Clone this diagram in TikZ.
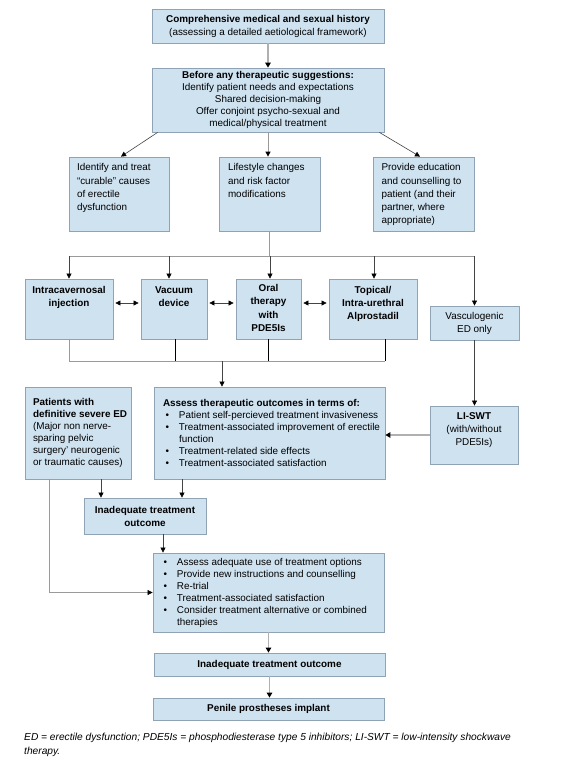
\documentclass[tikz,border=0pt]{standalone}
\usepackage{fontspec}
\setmainfont{Liberation Sans}
\usetikzlibrary{arrows.meta}
\definecolor{boxfill}{HTML}{CFE2F0}
\definecolor{boxline}{HTML}{8FA3B4}
\definecolor{lgray}{HTML}{B0B0B0}
\definecolor{mgray}{HTML}{9A9A9A}
\definecolor{dgray}{HTML}{444444}
\newcommand\pbx[3]{\parbox[c][#1][t]{#2}{#3}}
\newcommand\bt[1]{\mbox{\makebox[16pt][l]{\hspace{2.5pt}\textbullet}#1}}
\newcommand\bu[1]{\mbox{\makebox[14pt][l]{\hspace{0.5pt}\textbullet}#1}}
\hfuzz=50pt
\begin{document}
\begin{tikzpicture}[x=1pt,y=-1pt,
  box/.style={draw=boxline, line width=0.8pt, fill=boxfill, font=\fontsize{9.9}{12}\selectfont},
  cbox/.style={box, align=center, inner sep=0pt},
  pbox/.style={box, inner sep=0pt},
  tarrow/.style={draw=dgray, line width=0.6pt, -{Triangle[length=5pt,width=5pt,color=black]}},
  darrow/.style={draw=dgray, line width=0.6pt, shorten <=2pt, shorten >=2pt,
    {Triangle[length=5pt,width=5pt,color=black]}-{Triangle[length=5pt,width=5pt,color=black]}},
  barrow/.style={draw=lgray, line width=1.8pt, -{Triangle[length=5pt,width=5.5pt,color=black]}},
  marrow/.style={draw=mgray, line width=1pt, -{Triangle[length=5pt,width=5pt,color=black]}},
  gline/.style={draw=mgray, line width=0.6pt},
  kline/.style={draw=black, line width=0.7pt}]
\fill[white] (0,0) rectangle (575,772);
\useasboundingbox (0,0) rectangle (575,772);

% top boxes
\node[cbox, minimum width=232pt, minimum height=34pt, font=\fontsize{9.9}{13}\selectfont] (hist) at (268,26)
  {\textbf{Comprehensive medical and sexual history}\\(assessing a detailed aetiological framework)};
\node[cbox, minimum width=232pt, minimum height=64pt] (before) at (268,100)
  {\textbf{Before any therapeutic suggestions:}\\Identify patient needs and expectations\\Shared decision-making\\Offer conjoint psycho-sexual and\\medical/physical treatment};

% three boxes
\node[pbox, font=\fontsize{9.9}{13.25}\selectfont] (cur) at (119,194)
  {\pbx{74pt}{100pt}{\vspace*{4.5pt}\raggedright\leftskip=8pt\strut Identify and treat\\“curable” causes\\of erectile\\dysfunction}};
\node[pbox, font=\fontsize{9.9}{13.25}\selectfont] (life) at (269.5,194)
  {\pbx{74pt}{101pt}{\vspace*{4.5pt}\raggedright\leftskip=9pt\strut Lifestyle changes\\and risk factor\\modifications}};
\node[pbox, font=\fontsize{9.9}{13.25}\selectfont] (edu) at (423.5,194)
  {\pbx{74pt}{101pt}{\vspace*{4.5pt}\raggedright\leftskip=8.5pt\strut Provide education\\and counselling to\\patient (and their\\partner, where\\appropriate)}};

% treatment boxes
\node[pbox, font=\fontsize{9.9}{13}\selectfont\bfseries] (ici) at (69,309)
  {\pbx{60pt}{88pt}{\vspace*{5.3pt}\centering\strut Intracavernosal\\injection}};
\node[pbox, font=\fontsize{9.9}{13}\selectfont\bfseries] (vac) at (174,309)
  {\pbx{60pt}{66pt}{\vspace*{5.3pt}\centering\strut Vacuum\\device}};
\node[pbox, font=\fontsize{9.9}{13.3}\selectfont\bfseries] (oral) at (268.5,309)
  {\pbx{60pt}{65pt}{\vspace*{3.3pt}\centering\strut Oral\\therapy\\with\\PDE5Is}};
\node[pbox, font=\fontsize{9.9}{13}\selectfont\bfseries] (top) at (373,309)
  {\pbx{60pt}{88pt}{\vspace*{5.3pt}\centering\strut Topical/\\Intra-urethral\\Alprostadil}};
\node[cbox, minimum width=89pt, minimum height=34pt, font=\fontsize{9.9}{13}\selectfont] (vasc) at (474.5,323)
  {Vasculogenic\\ED only};

% middle row
\node[pbox] (pat) at (78,433)
  {\parbox[c][92pt][c]{106pt}{\raggedright\leftskip=8pt {\bfseries Patients with\\definitive severe ED}\\(Major non nerve-\\sparing pelvic\\surgery’ neurogenic\\or traumatic causes)}};
\node[pbox] (assess) at (269.5,433)
  {\parbox[c][92pt][c]{231pt}{\raggedright\leftskip=9pt \textbf{Assess therapeutic outcomes in terms of:}\\\bt{Patient self-percieved treatment invasiveness}\\\bt{Treatment-associated improvement of erectile}\\\hspace*{16pt}function\\\bt{Treatment-related side effects}\\\bt{Treatment-associated satisfaction}}};
\node[pbox, font=\fontsize{9.9}{13}\selectfont] (li) at (474,435)
  {\pbx{58pt}{88pt}{\vspace*{4.3pt}\centering\strut\textbf{LI-SWT}\\(with/without\\PDE5Is)}};

\node[cbox, minimum width=122pt, minimum height=36pt, font=\fontsize{9.9}{13}\selectfont\bfseries] (inad1) at (145,516)
  {Inadequate treatment\\outcome};

\node[pbox] (bul) at (268.5,592.5)
  {\parbox[c][79pt][c]{231pt}{\raggedright\leftskip=10pt \bu{Assess adequate use of treatment options}\\\bu{Provide new instructions and counselling}\\\bu{Re-trial}\\\bu{Treatment-associated satisfaction}\\\bu{Consider treatment alternative or combined}\\\hspace*{14pt}therapies}};

\node[cbox, minimum width=231pt, minimum height=23pt, font=\fontsize{9.9}{12}\selectfont\bfseries] (inad2) at (269.5,664.5)
  {Inadequate treatment outcome};
\node[cbox, minimum width=231pt, minimum height=22pt, font=\fontsize{9.9}{12}\selectfont\bfseries] (pen) at (268.5,709)
  {Penile prostheses implant};

\node[anchor=north west, inner sep=0pt, align=left, font=\fontsize{10.2}{14}\selectfont\itshape] (foot) at (24,732.5)
  {ED = erectile dysfunction; PDE5Is = phosphodiesterase type 5 inhibitors; LI-SWT = low-intensity shockwave\\therapy.};

% connectors top
\draw[barrow] (hist.south) -- (before.north);
\draw[tarrow] ([xshift=6pt]before.south west) -- ([xshift=2pt]cur.north);
\draw[marrow] (before.south) -- (before.south |- life.north);
\draw[tarrow] ([xshift=-5pt]before.south east) -- ([xshift=-3.5pt]edu.north);

% distribution
\coordinate (dist) at (270,256);
\draw[gline] (life.south) -- (life.south |- dist);
\draw[gline] (ici.north |- dist) -- (vasc.north |- dist);
\coordinate (vt) at ([xshift=-5pt]vac.north);
\coordinate (ot) at ([xshift=1.5pt]oral.north);
\coordinate (tt) at ([xshift=1pt]top.north);
\draw[tarrow] (ici.north |- dist) -- (ici.north);
\draw[tarrow] (vt |- dist) -- (vt);
\draw[tarrow] (ot |- dist) -- (ot);
\draw[tarrow] (tt |- dist) -- (tt);
\draw[tarrow] (vasc.north |- dist) -- (vasc.north);

% double arrows
\draw[darrow] ([yshift=6pt]ici.east) -- ([yshift=6pt]vac.west);
\draw[darrow] ([yshift=6pt]vac.east) -- ([yshift=6pt]oral.west);
\draw[darrow] ([yshift=6pt]oral.east) -- ([yshift=6pt]top.west);

% collection
\coordinate (col) at (222,361);
\coordinate (vb) at ([xshift=1pt]vac.south);
\coordinate (ob) at ([xshift=-0.5pt]oral.south);
\coordinate (tb) at ([xshift=12pt]top.south);
\draw[gline] (ici.south) -- (ici.south |- col) -- (tb |- col);
\draw[kline] (vb) -- (vb |- col);
\draw[kline] (ob) -- (ob |- col);
\draw[kline] (tb) -- (tb |- col);
\draw[tarrow] (col) -- (col |- assess.north);

\draw[tarrow] (vasc.south) -- (vasc.south |- li.north);
\draw[barrow] (li.west) -- (li.west -| assess.east);

% lower connectors
\coordinate (pa) at ([xshift=23pt]pat.south);
\draw[tarrow] (pa) -- (pa |- inad1.north);
\coordinate (as) at ([xshift=-87.5pt]assess.south);
\draw[tarrow] (as) -- (as |- inad1.north);
\coordinate (pl) at ([xshift=-29pt]pat.south);
\draw[tarrow, draw=mgray] (pl) |- (bul.west);
\coordinate (ib) at ([xshift=18pt]inad1.south);
\draw[tarrow] (ib) -- (ib |- bul.north);
\draw[barrow] (bul.south) -- (bul.south |- inad2.north);
\draw[barrow] (inad2.south) -- (inad2.south |- pen.north);
\end{tikzpicture}
\end{document}
